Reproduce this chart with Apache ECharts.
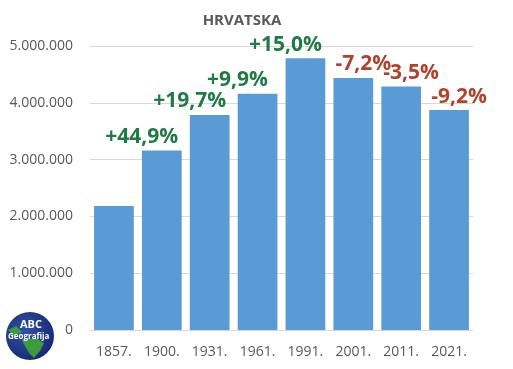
<!DOCTYPE html>
<html><head><meta charset="utf-8">
<script src="https://cdn.jsdelivr.net/npm/echarts@6/dist/echarts.min.js"></script>
<style>html,body{margin:0;padding:0;background:#fff}#c{width:513px;height:369px}</style>
</head><body><div id="c"></div>
<script>
var title = 'HRVATSKA';
var years = ['1857.', '1900.', '1931.', '1961.', '1991.', '2001.', '2011.', '2021.'];
var population = [2181499, 3161456, 3785455, 4159696, 4784265, 4437460, 4284889, 3871833];
var changes = ['', '+44,9%', '+19,7%', '+9,9%', '+15,0%', '-7,2%', '-3,5%', '-9,2%'];
var yTicks = [0, 1000000, 2000000, 3000000, 4000000, 5000000];

function fmt(v) { return String(v).replace(/\B(?=(\d{3})+(?!\d))/g, '.'); }

var chart = echarts.init(document.getElementById('c'), null, { renderer: 'canvas' });
var FONT = '"Open Sans", sans-serif';
var GREEN = '#1f7a45', RED = '#b0432c';

var barData = population.map(function (v, i) {
  var c = changes[i];
  var neg = c.charAt(0) === '-';
  return {
    value: v,
    label: {
      show: c !== '',
      color: neg ? RED : GREEN,
      offset: neg ? [10, 0] : [-20, 0]
    }
  };
});

chart.setOption({
  animation: false,
  title: {
    text: title, left: 237, top: 8, textAlign: 'center',
    textStyle: { fontFamily: FONT, fontSize: 15, fontWeight: 'bold', color: '#595959' }
  },
  grid: { left: 90, right: 40, top: 46, bottom: 39, containLabel: false },
  xAxis: {
    type: 'category', data: years,
    axisLine: { show: true, lineStyle: { color: '#d9d9d9' } },
    axisTick: { show: false },
    axisLabel: { fontFamily: FONT, fontSize: 14, color: '#595959', margin: 15 }
  },
  yAxis: {
    type: 'value', min: 0, max: 5000000, interval: 1000000,
    axisLine: { show: false }, axisTick: { show: false },
    splitLine: { lineStyle: { color: '#d9d9d9' } },
    axisLabel: {
      fontFamily: FONT, fontSize: 14, color: '#595959', margin: 17,
      formatter: function (v) { return yTicks.indexOf(v) >= 0 ? fmt(v) : ''; }
    }
  },
  series: [{
    type: 'bar', data: barData, barCategoryGap: '17%',
    itemStyle: { color: '#5b9bd5' },
    label: {
      show: true, position: 'top', distance: 3,
      fontFamily: FONT, fontSize: 21, fontWeight: 'bold',
      formatter: function (p) { return changes[p.dataIndex]; }
    }
  }],
  graphic: [
    {
      type: 'circle', shape: { cx: 30, cy: 336, r: 24 },
      style: {
        fill: new echarts.graphic.RadialGradient(0.4, 0.4, 0.7, [
          { offset: 0, color: '#2f52a8' }, { offset: 1, color: '#16266e' }
        ])
      }
    },
    {
      type: 'polygon',
      shape: { points: [[22, 340], [36, 338], [44, 343], [40, 351], [34, 358], [29, 353], [25, 346]] },
      style: { fill: '#3f9a3a' }
    },
    {
      type: 'polygon',
      shape: { points: [[8, 330], [16, 326], [22, 332], [14, 336]] },
      style: { fill: '#3f9a3a' }
    },
    {
      type: 'text', left: 20, top: 319,
      style: { text: 'ABC', fill: '#fff', font: 'bold 11px "Open Sans", sans-serif' }
    },
    {
      type: 'text', left: 8, top: 333,
      style: { text: 'Geografija', fill: '#fff', font: 'bold 8px "Open Sans", sans-serif' }
    }
  ]
});
</script></body></html>
